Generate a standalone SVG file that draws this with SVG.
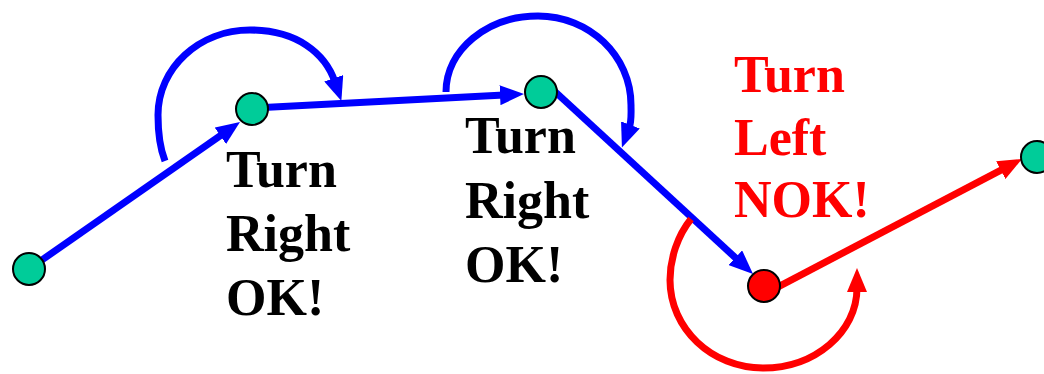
<svg xmlns="http://www.w3.org/2000/svg" width="1044" height="374" viewBox="0 0 1044 374">
  <style>
    .blue { fill: none; stroke: #0000FF; stroke-width: 7; }
    .red { fill: none; stroke: #FF0000; stroke-width: 7; }
    .node { fill: #00CC99; stroke: #000000; stroke-width: 2; }
    .bad { fill: #FF0000; stroke: #000000; stroke-width: 2; }
    .lbl { font-family: "Liberation Serif", "Times New Roman", serif; font-weight: bold; font-size: 52px; }
  </style>
  <defs>
    <marker id="ab" markerUnits="userSpaceOnUse" viewBox="0 0 24 20" markerWidth="24" markerHeight="20" refX="4" refY="10" orient="auto">
      <path d="M0,0 L24,10 L0,20 z" fill="#0000FF"/>
    </marker>
    <marker id="ar" markerUnits="userSpaceOnUse" viewBox="0 0 24 20" markerWidth="24" markerHeight="20" refX="4" refY="10" orient="auto">
      <path d="M0,0 L24,10 L0,20 z" fill="#FF0000"/>
    </marker>
  </defs>
  <rect width="1044" height="374" fill="#FFFFFF"/>
  <g id="connectors">
    <path class="blue" d="M29,269 L223.6,133.4" marker-end="url(#ab)"/>
    <path class="blue" d="M252,108 L504,95" marker-end="url(#ab)"/>
    <path class="blue" d="M550,87 L738.3,260.4" marker-end="url(#ab)"/>
    <path class="red" d="M771,290.6 L1004.3,168.3" marker-end="url(#ar)"/>
    <path class="blue" d="M165,161 C159.5,147 158,130 158,115 C158,68 199.2,30 250,30 C297,30 325.4,53.5 335,82" marker-end="url(#ab)"/>
    <path class="blue" d="M446,92 C446,50 487,16 538,16 C589.3,16 631,55.9 631,105 C631,113 631.8,121.3 629,128.7" marker-end="url(#ab)"/>
    <path class="red" d="M691,219 C677.6,235.5 670,258.7 670,280 C670,328.6 711.7,368 763,368 C814.9,368 857,332.2 857,288" marker-end="url(#ar)"/>
  </g>
  <g id="node-a"><circle class="node" cx="29" cy="269" r="16"/></g>
  <g id="node-b"><circle class="node" cx="252" cy="109" r="16"/></g>
  <g id="node-c"><circle class="node" cx="541" cy="92" r="16"/></g>
  <g id="node-d"><circle class="bad" cx="764" cy="286" r="16"/></g>
  <g id="node-e"><circle class="node" cx="1037" cy="157" r="16"/></g>
  <g id="label-1">
    <text class="lbl" fill="#000000"><tspan x="226" y="187">Turn</tspan><tspan x="226" y="251">Right</tspan><tspan x="226" y="315">OK!</tspan></text>
  </g>
  <g id="label-2">
    <text class="lbl" fill="#000000"><tspan x="465" y="153">Turn</tspan><tspan x="465" y="218">Right</tspan><tspan x="465" y="282">OK!</tspan></text>
  </g>
  <g id="label-3">
    <text class="lbl" fill="#FF0000"><tspan x="734" y="92">Turn</tspan><tspan x="734" y="155">Left</tspan><tspan x="734" y="217">NOK!</tspan></text>
  </g>
</svg>
